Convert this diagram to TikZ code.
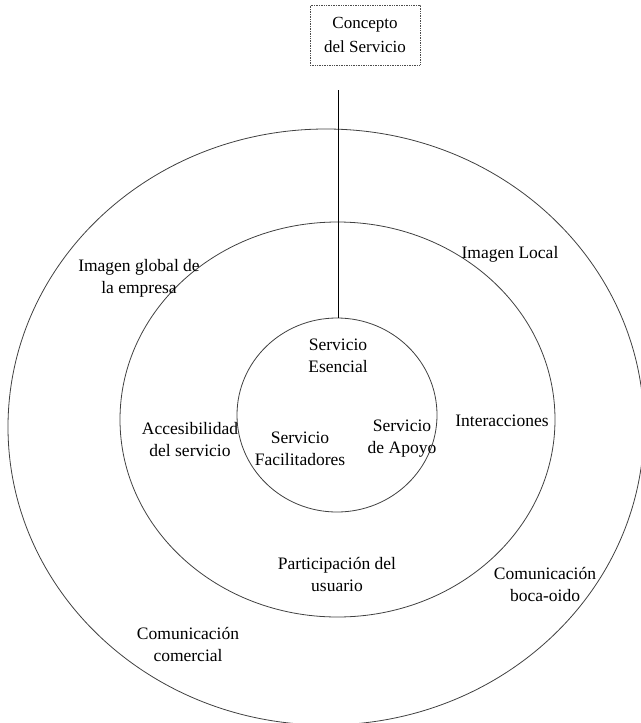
\documentclass[tikz,border=0pt]{standalone}
\usepackage{fontspec}
\setmainfont{Liberation Serif}
\usetikzlibrary{shapes.geometric}
\begin{document}
\begin{tikzpicture}[x=1pt,y=-1pt,
  ring/.style={ellipse,draw=black!75,line width=0.8pt,inner sep=0pt},
  lbl/.style={align=center,inner sep=1pt,font=\fontsize{17.5}{22}\selectfont},
  conceptbox/.style={draw=black!70,densely dotted,line width=0.7pt,align=center,
    minimum width=110,minimum height=60,inner sep=2pt,font=\fontsize{17}{24}\selectfont}]
  \useasboundingbox (0,0) rectangle (640,723);

  % concentric rings: image, organisation, core service
  \node[ring,minimum width=636,minimum height=596] (outer) at (326,427) {};
  \node[ring,minimum width=435,minimum height=395] (middle) at (337.5,419.5) {};
  \node[ring,minimum width=200,minimum height=194] (inner) at (337,415) {};

  % concept box and its leader line
  \node[conceptbox] (concept) at (365,35) {Concepto\\del Servicio};
  \coordinate (leader) at (338,90);
  \draw[line width=0.8pt] (leader) -- (leader |- inner.north);

  % labels
  \node[lbl] (global) at (139,278) {Imagen global de\\la empresa};
  \node[lbl] (local) at (510,254) {Imagen Local};
  \node[lbl] (esencial) at (338,356) {Servicio\\Esencial};
  \node[lbl] (acces) at (190,440) {Accesibilidad\\del servicio};
  \node[lbl] (facil) at (300,449) {Servicio\\Facilitadores};
  \node[lbl] (apoyo) at (402,439) {Servicio\\de Apoyo};
  \node[lbl] (inter) at (502,421) {Interacciones};
  \node[lbl] (partic) at (337,574) {Participación del\\usuario};
  \node[lbl] (boca) at (545,584) {Comunicación\\boca-oido};
  \node[lbl] (comercial) at (188,644) {Comunicación\\comercial};
\end{tikzpicture}
\end{document}
